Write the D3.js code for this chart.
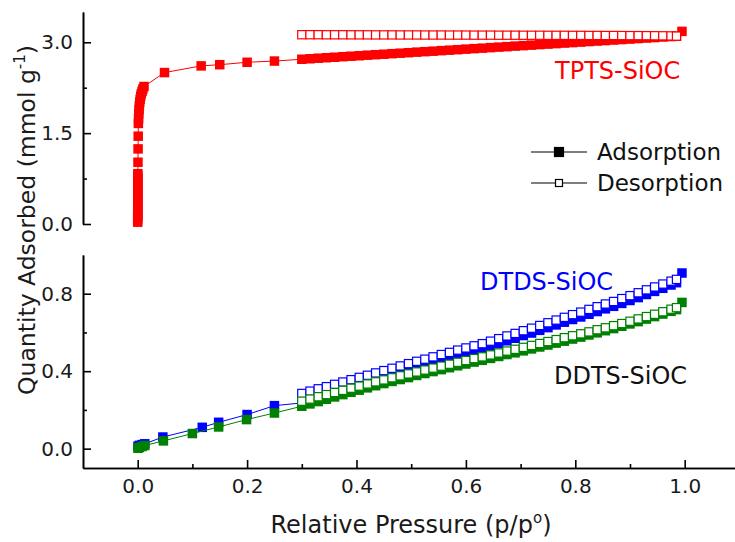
<!DOCTYPE html>
<html>
<head>
<meta charset="utf-8">
<script src="https://cdn.jsdelivr.net/npm/d3@7"></script>
<style>
  body { margin: 0; background: #fff; }
</style>
</head>
<body>
<script>
// --- data ---
// low pressure part of each adsorption branch
var pLowTPTS = [0.00002, 0.00003, 0.00004, 0.00005, 0.00006, 0.00007, 0.00008, 0.00009, 0.0001, 0.00011,
  0.00012, 0.00013, 0.00014, 0.00015, 0.00016, 0.00017, 0.00018, 0.00019, 0.0002, 0.00022, 0.00025,
  0.0005, 0.0007, 0.0009, 0.0012, 0.0016, 0.002, 0.0025, 0.003, 0.0037, 0.0045, 0.0055, 0.0066, 0.008, 0.0095, 0.0115,
  0.049, 0.116, 0.150, 0.200, 0.250];
var qLowTPTS = [0.03, 0.07, 0.11, 0.15, 0.19, 0.23, 0.27, 0.31, 0.35, 0.39,
  0.43, 0.47, 0.51, 0.55, 0.59, 0.63, 0.67, 0.71, 0.75, 0.79, 0.83,
  1.02, 1.24, 1.45, 1.66, 1.74, 1.82, 1.89, 1.95, 2.01, 2.06, 2.11, 2.15, 2.19, 2.23, 2.27,
  2.50, 2.61, 2.63, 2.67, 2.69];

var pLowDTDS = [0.0005, 0.003, 0.008, 0.013, 0.046, 0.118, 0.148, 0.200, 0.250];
var qLowDTDS = [0.012, 0.017, 0.021, 0.025, 0.060, 0.110, 0.136, 0.176, 0.222];

var pLowDDTS = [0.0005, 0.003, 0.008, 0.013, 0.047, 0.100, 0.148, 0.199, 0.250];
var qLowDDTS = [0.002, 0.006, 0.011, 0.016, 0.040, 0.078, 0.112, 0.150, 0.184];

// shared pressure points above 0.3 (adsorption and desorption)
var pHigh = [0.300, 0.315, 0.330, 0.345, 0.360, 0.375, 0.390, 0.405, 0.420, 0.435,
  0.450, 0.465, 0.480, 0.495, 0.510, 0.525, 0.540, 0.555, 0.570, 0.585,
  0.600, 0.615, 0.630, 0.645, 0.660, 0.675, 0.690, 0.705, 0.720, 0.735,
  0.750, 0.765, 0.780, 0.795, 0.810, 0.825, 0.840, 0.855, 0.870, 0.885,
  0.900, 0.915, 0.930, 0.945, 0.960, 0.975, 0.985];

var qAdsTPTS = [2.720, 2.728, 2.737, 2.745, 2.753, 2.762, 2.770, 2.778, 2.787, 2.795,
  2.803, 2.812, 2.820, 2.828, 2.837, 2.845, 2.853, 2.862, 2.870, 2.878,
  2.887, 2.895, 2.903, 2.912, 2.920, 2.928, 2.937, 2.945, 2.953, 2.962,
  2.970, 2.978, 2.987, 2.995, 3.003, 3.012, 3.020, 3.028, 3.037, 3.045,
  3.053, 3.062, 3.070, 3.078, 3.087, 3.095, 3.100];
var qDesTPTS = [3.125, 3.125, 3.125, 3.124, 3.124, 3.124, 3.123, 3.123, 3.123, 3.122,
  3.122, 3.122, 3.121, 3.121, 3.121, 3.120, 3.120, 3.120, 3.119, 3.119,
  3.119, 3.118, 3.118, 3.118, 3.117, 3.117, 3.117, 3.116, 3.116, 3.116,
  3.115, 3.115, 3.115, 3.114, 3.114, 3.113, 3.113, 3.112, 3.112, 3.111,
  3.110, 3.110, 3.109, 3.108, 3.107, 3.105, 3.102];

var qAdsDTDS = [0.236, 0.251, 0.266, 0.280, 0.295, 0.309, 0.323, 0.337, 0.350, 0.364,
  0.377, 0.390, 0.402, 0.414, 0.426, 0.437, 0.449, 0.461, 0.472, 0.484,
  0.495, 0.506, 0.517, 0.530, 0.543, 0.557, 0.570, 0.584, 0.597, 0.611,
  0.625, 0.639, 0.653, 0.667, 0.680, 0.694, 0.708, 0.722, 0.735, 0.750,
  0.765, 0.780, 0.796, 0.812, 0.828, 0.845, 0.857];
var qDesDTDS = [0.285, 0.297, 0.309, 0.320, 0.332, 0.344, 0.356, 0.368, 0.379, 0.391,
  0.403, 0.415, 0.427, 0.439, 0.451, 0.462, 0.474, 0.486, 0.497, 0.509,
  0.520, 0.531, 0.542, 0.555, 0.568, 0.582, 0.595, 0.609, 0.622, 0.636,
  0.650, 0.664, 0.678, 0.692, 0.705, 0.719, 0.733, 0.747, 0.760, 0.775,
  0.790, 0.805, 0.820, 0.835, 0.850, 0.865, 0.874];

var qAdsDDTS = [0.219, 0.231, 0.243, 0.255, 0.267, 0.279, 0.291, 0.302, 0.314, 0.325,
  0.336, 0.347, 0.357, 0.367, 0.378, 0.388, 0.398, 0.408, 0.418, 0.428,
  0.437, 0.447, 0.456, 0.466, 0.476, 0.486, 0.495, 0.505, 0.515, 0.525,
  0.535, 0.545, 0.555, 0.566, 0.576, 0.587, 0.598, 0.609, 0.620, 0.632,
  0.644, 0.656, 0.669, 0.682, 0.695, 0.709, 0.718];
var qDesDDTS = [0.245, 0.256, 0.268, 0.279, 0.290, 0.301, 0.312, 0.323, 0.334, 0.345,
  0.355, 0.366, 0.376, 0.386, 0.396, 0.406, 0.416, 0.426, 0.436, 0.446,
  0.455, 0.465, 0.474, 0.484, 0.494, 0.504, 0.513, 0.523, 0.533, 0.543,
  0.553, 0.563, 0.573, 0.583, 0.593, 0.603, 0.614, 0.624, 0.635, 0.646,
  0.658, 0.670, 0.682, 0.694, 0.707, 0.720, 0.728];

// last adsorption point, close to saturation
var pEnd = 0.995;
var qEndTPTS = 3.18;
var qEndDTDS = 0.907;
var qEndDDTS = 0.755;

var xTicks = [0, 0.2, 0.4, 0.6, 0.8, 1.0];
var xMinor = [0.1, 0.3, 0.5, 0.7, 0.9];
var yTopTicks = [0, 1.5, 3.0];
var yTopMinor = [0.75, 2.25];
var yBotTicks = [0, 0.4, 0.8];
var yBotMinor = [0.2, 0.6];

// --- drawing ---
var font = "DejaVu Sans, Verdana, sans-serif";
var svg = d3.select("body").append("svg").attr("width", 735).attr("height", 542);

var x = d3.scaleLinear().domain([-0.1, 1.1]).range([83, 739.4]);
var yTop = d3.scaleLinear().domain([0, 3.5]).range([224, 12]);
var yBot = d3.scaleLinear().domain([-0.1, 1.0]).range([468, 255]);

function zip(ps, qs) {
  return ps.map(function(p, i) { return [p, qs[i]]; });
}

function styleAxis(g) {
  g.attr("font-family", font).attr("font-size", 20);
  g.selectAll("path, line").attr("stroke", "#000").attr("stroke-width", 1.6);
  g.selectAll("text").attr("fill", "#1a1a1a");
}

// bottom x axis
svg.append("g").attr("transform", "translate(0,468)")
  .call(d3.axisBottom(x).tickValues(xTicks).tickSizeInner(-8).tickSizeOuter(0).tickPadding(11)
    .tickFormat(d3.format(".1f")))
  .call(styleAxis);
svg.append("g").attr("transform", "translate(0,468)")
  .call(d3.axisBottom(x).tickValues(xMinor).tickSizeInner(-4).tickSizeOuter(0).tickFormat(""))
  .call(styleAxis);

// top y axis
svg.append("g").attr("transform", "translate(83,0)")
  .call(d3.axisLeft(yTop).tickValues(yTopTicks).tickSizeInner(-8).tickSizeOuter(0).tickPadding(10)
    .tickFormat(d3.format(".1f")))
  .call(styleAxis);
svg.append("g").attr("transform", "translate(83,0)")
  .call(d3.axisLeft(yTop).tickValues(yTopMinor).tickSizeInner(-4).tickSizeOuter(0).tickFormat(""))
  .call(styleAxis);

// bottom y axis
svg.append("g").attr("transform", "translate(83,0)")
  .call(d3.axisLeft(yBot).tickValues(yBotTicks).tickSizeInner(-8).tickSizeOuter(0).tickPadding(10)
    .tickFormat(d3.format(".1f")))
  .call(styleAxis);
svg.append("g").attr("transform", "translate(83,0)")
  .call(d3.axisLeft(yBot).tickValues(yBotMinor).tickSizeInner(-4).tickSizeOuter(0).tickFormat(""))
  .call(styleAxis);

var series = [
  { y: yTop, color: "#ff0000",
    ads: zip(pLowTPTS, qLowTPTS).concat(zip(pHigh, qAdsTPTS), [[pEnd, qEndTPTS]]),
    des: zip(pHigh, qDesTPTS) },
  { y: yBot, color: "#0000ff",
    ads: zip(pLowDTDS, qLowDTDS).concat(zip(pHigh, qAdsDTDS), [[pEnd, qEndDTDS]]),
    des: zip(pHigh, qDesDTDS) },
  { y: yBot, color: "#008000",
    ads: zip(pLowDDTS, qLowDDTS).concat(zip(pHigh, qAdsDDTS), [[pEnd, qEndDDTS]]),
    des: zip(pHigh, qDesDDTS) }
];

var filledSize = 9.5;
var openSize = 8.2;

series.forEach(function(s) {
  var line = d3.line()
    .x(function(d) { return x(d[0]); })
    .y(function(d) { return s.y(d[1]); });
  var g = svg.append("g");

  g.append("path").datum(s.ads).attr("d", line)
    .attr("fill", "none").attr("stroke", s.color).attr("stroke-width", 1);
  g.append("path").datum(s.des).attr("d", line)
    .attr("fill", "none").attr("stroke", s.color).attr("stroke-width", 1);

  g.selectAll("rect.ads").data(s.ads).enter()
    .append("rect").attr("class", "ads")
    .attr("x", function(d) { return x(d[0]) - filledSize / 2; })
    .attr("y", function(d) { return s.y(d[1]) - filledSize / 2; })
    .attr("width", filledSize).attr("height", filledSize)
    .attr("fill", s.color);

  g.selectAll("rect.des").data(s.des).enter()
    .append("rect").attr("class", "des")
    .attr("x", function(d) { return x(d[0]) - openSize / 2; })
    .attr("y", function(d) { return s.y(d[1]) - openSize / 2; })
    .attr("width", openSize).attr("height", openSize)
    .attr("fill", "#fff").attr("stroke", s.color).attr("stroke-width", 1.2);
});

// series labels
svg.append("text").attr("x", 555).attr("y", 79).text("TPTS-SiOC")
  .attr("font-family", font).attr("font-size", 24).attr("fill", "#ff0000");
svg.append("text").attr("x", 480).attr("y", 290).text("DTDS-SiOC")
  .attr("font-family", font).attr("font-size", 24).attr("fill", "#0000ff");
svg.append("text").attr("x", 554).attr("y", 384).text("DDTS-SiOC")
  .attr("font-family", font).attr("font-size", 24).attr("fill", "#111");

// legend
var legend = svg.append("g");
[["Adsorption", 152, true], ["Desorption", 183, false]].forEach(function(item) {
  legend.append("line").attr("x1", 531).attr("x2", 587).attr("y1", item[1]).attr("y2", item[1])
    .attr("stroke", "#000").attr("stroke-width", 1.2);
  var s = item[2] ? 9 : 7;
  legend.append("rect").attr("x", 559 - s / 2).attr("y", item[1] - s / 2)
    .attr("width", s).attr("height", s)
    .attr("fill", item[2] ? "#000" : "#fff").attr("stroke", "#000").attr("stroke-width", 1.2);
  legend.append("text").attr("x", 597).attr("y", item[1] + 8).text(item[0])
    .attr("font-family", font).attr("font-size", 23).attr("fill", "#111");
});

// axis titles
var xt = svg.append("text").attr("x", 411).attr("y", 533).attr("text-anchor", "middle")
  .attr("font-family", font).attr("font-size", 24).attr("fill", "#1a1a1a");
xt.append("tspan").text("Relative Pressure (p/p");
xt.append("tspan").attr("dy", -10).attr("font-size", 15).text("o");
xt.append("tspan").attr("dy", 10).text(")");

var yt = svg.append("text").attr("transform", "translate(35,220) rotate(-90)").attr("text-anchor", "middle")
  .attr("font-family", font).attr("font-size", 23.5).attr("fill", "#1a1a1a");
yt.append("tspan").text("Quantity Adsorbed (mmol g");
yt.append("tspan").attr("dy", -10).attr("font-size", 15).text("-1");
yt.append("tspan").attr("dy", 10).text(")");
</script>
</body>
</html>
